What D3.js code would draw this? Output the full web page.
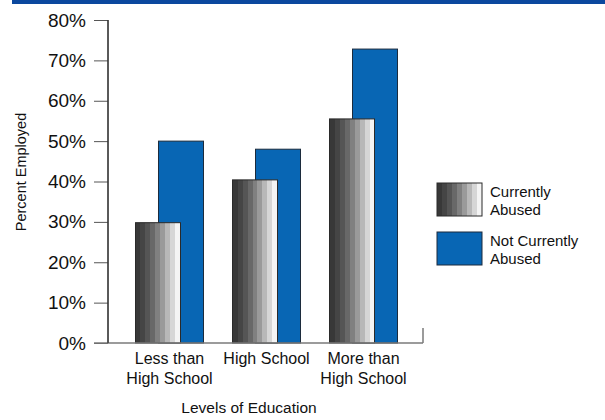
<!DOCTYPE html>
<html>
<head>
<meta charset="utf-8">
<script src="https://d3js.org/d3.v7.min.js"></script>
<style>
  body { margin: 0; background: #fff; }
  text { font-family: "Liberation Sans", Arial, sans-serif; fill: #111; }
</style>
</head>
<body>
<svg width="605" height="420"></svg>
<script>
// data
const categories = [["Less than", "High School"], ["High School"], ["More than", "High School"]];
const currentlyAbused = [29.8, 40.4, 55.5];
const notCurrentlyAbused = [50.0, 48.0, 72.8];
const yTicks = [0, 10, 20, 30, 40, 50, 60, 70, 80];
const legendLabels = [["Currently", "Abused"], ["Not Currently", "Abused"]];
const stripeColors = ["#383838", "#454545", "#555555", "#686868", "#808080", "#9a9a9a", "#b8b8b8", "#d6d6d6", "#f4f4f4"];

const svg = d3.select("svg");
const blue = "#0866b4";

// top band
svg.append("rect").attr("x", 12).attr("y", 0).attr("width", 593).attr("height", 4).attr("fill", "#0b489e");

// striped gradient for the gray bars
const grad = svg.append("defs").append("linearGradient").attr("id", "stripes")
  .attr("x1", "0").attr("x2", "1").attr("y1", "0").attr("y2", "0");
stripeColors.forEach(function (c, i) {
  grad.append("stop").attr("offset", i / stripeColors.length).attr("stop-color", c);
  grad.append("stop").attr("offset", (i + 1) / stripeColors.length).attr("stop-color", c);
});

const y = d3.scaleLinear().domain([0, 80]).range([343, 20]);
const idx = categories.map(function (d, i) { return i; });
const x = d3.scalePoint().domain(idx).range([108, 425]).padding(0.634);
const barW = 45;

// y axis
const yAxis = svg.append("g").attr("transform", "translate(108,0)")
  .call(d3.axisLeft(y).tickValues(yTicks).tickSize(14).tickPadding(8).tickFormat(function (d) { return d + "%"; }));
yAxis.select(".domain").attr("stroke", "#222").attr("d", "M0," + y(80) + "V" + y(0));
yAxis.selectAll(".tick line").attr("stroke", "#555");
yAxis.selectAll(".tick text").style("font-size", "19px").attr("fill", "#111")
  .style("font-family", "'Liberation Sans', Arial, sans-serif");

// blue bars (behind)
svg.append("g").selectAll("rect").data(notCurrentlyAbused).enter().append("rect")
  .attr("x", function (d, i) { return x(i) - 11; })
  .attr("y", function (d) { return y(d); })
  .attr("width", barW)
  .attr("height", function (d) { return y(0) - y(d); })
  .attr("fill", blue).attr("stroke", "#1c2b3c").attr("stroke-width", 1);

// gray striped bars (front)
svg.append("g").selectAll("rect").data(currentlyAbused).enter().append("rect")
  .attr("x", function (d, i) { return x(i) - 34; })
  .attr("y", function (d) { return y(d); })
  .attr("width", barW)
  .attr("height", function (d) { return y(0) - y(d); })
  .attr("fill", "url(#stripes)").attr("stroke", "#2a2a2a").attr("stroke-width", 1);

// baseline and right end tick
svg.append("line").attr("x1", 94).attr("x2", 423).attr("y1", y(0)).attr("y2", y(0))
  .attr("stroke", "#7a7a7a").attr("stroke-width", 1.5);
svg.append("line").attr("x1", 423).attr("x2", 423).attr("y1", y(0)).attr("y2", y(0) - 15)
  .attr("stroke", "#7a7a7a").attr("stroke-width", 1.5);
svg.append("line").attr("x1", 108).attr("x2", 108).attr("y1", y(80)).attr("y2", y(0))
  .attr("stroke", "#222");

// category labels
const cat = svg.append("g").selectAll("text").data(categories).enter().append("text")
  .attr("text-anchor", "middle").style("font-size", "16px")
  .attr("transform", function (d, i) { return "translate(" + x(i) + ",364)"; });
cat.selectAll("tspan").data(function (d) { return d; }).enter().append("tspan")
  .attr("x", 0).attr("dy", function (d, i) { return i === 0 ? 0 : 20; })
  .text(function (d) { return d; });

// axis titles
svg.append("text").attr("x", 249).attr("y", 413).attr("text-anchor", "middle")
  .style("font-size", "15.5px").text("Levels of Education");
svg.append("text").attr("transform", "translate(26,172) rotate(-90)").attr("text-anchor", "middle")
  .style("font-size", "14.5px").text("Percent Employed");

// legend
const legend = svg.append("g").selectAll("g").data(legendLabels).enter().append("g")
  .attr("transform", function (d, i) { return "translate(437," + (183 + i * 49) + ")"; });
legend.append("rect").attr("width", barW).attr("height", 33)
  .attr("fill", function (d, i) { return i === 0 ? "url(#stripes)" : blue; })
  .attr("stroke", function (d, i) { return i === 0 ? "#2a2a2a" : "#1c2b3c"; });
const lt = legend.append("text").attr("x", 53).attr("y", 14).style("font-size", "15px");
lt.selectAll("tspan").data(function (d) { return d; }).enter().append("tspan")
  .attr("x", 53).attr("dy", function (d, i) { return i === 0 ? 0 : 18; })
  .text(function (d) { return d; });
</script>
</body>
</html>
